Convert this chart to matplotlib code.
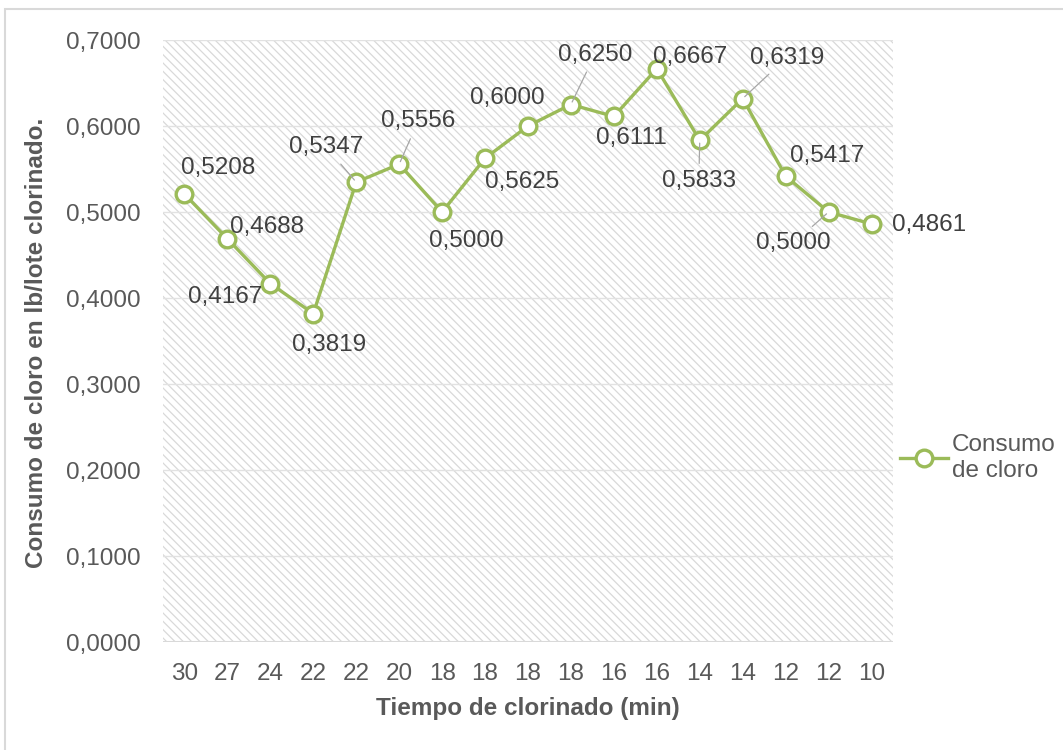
import matplotlib
matplotlib.use("Agg")
import matplotlib.pyplot as plt
from matplotlib.patches import Rectangle
from matplotlib.lines import Line2D

plt.rcParams['font.family'] = ['Liberation Sans', 'DejaVu Sans']
plt.rcParams['hatch.linewidth'] = 0.9

# Data
tiempos = ["30", "27", "24", "22", "22", "20", "18", "18", "18", "18",
           "16", "16", "14", "14", "12", "12", "10"]
consumo = [0.5208, 0.4688, 0.4167, 0.3819, 0.5347, 0.5556, 0.5000, 0.5625,
           0.6000, 0.6250, 0.6111, 0.6667, 0.5833, 0.6319, 0.5417, 0.5000,
           0.4861]
y_ticks = [0.0, 0.1, 0.2, 0.3, 0.4, 0.5, 0.6, 0.7]
serie = "Consumo\nde cloro"

# label offsets in pixels (dx, dy) and which labels get a leader line
offsets = [(34, 26), (40, 12), (-45, -13), (16, -31), (-30, 35), (19, 43),
           (24, -29), (37, -24), (-21, 28), (24, 50), (17, -22), (33, 12),
           (-1, -41), (44, 41), (41, 20), (-35, -31), (58, -1)]
leaders = {4, 5, 9, 12, 13, 15}

green = "#9bbb59"
txt = "#404040"
tick_col = "#595959"
fs = 17.5

fig = plt.figure(figsize=(10.63, 7.5), dpi=100)
fig.patch.set_facecolor("white")
fig.add_artist(Rectangle((5 / 1063, -0.05), 1.2, 1 - 9 / 750 + 0.05,
                         transform=fig.transFigure, fill=False,
                         edgecolor="#d9d9d9", linewidth=1.5))

ax = fig.add_axes([163 / 1063, 108 / 750, 730 / 1063, 602 / 750])
ax.set_xlim(-0.5, len(consumo) - 0.5)
ax.set_ylim(0, 0.7)

# hatched plot area
ax.add_patch(Rectangle((0, 0), 1, 1, transform=ax.transAxes,
                       facecolor="white", edgecolor="#d9d9d9",
                       hatch="\\\\\\\\", linewidth=0, zorder=0))
for s in ax.spines.values():
    s.set_visible(False)
ax.axhline(0, color="#d9d9d9", lw=1.5, zorder=1)
for v in y_ticks[1:]:
    ax.axhline(v, color="#e2e2e2", lw=1, zorder=1)

x = list(range(len(consumo)))
ax.plot(x, consumo, color=green, lw=2.4, marker="o", markersize=12,
        markerfacecolor="white", markeredgecolor=green, markeredgewidth=2.4,
        zorder=3)

for i, (v, (dx, dy)) in enumerate(zip(consumo, offsets)):
    label = f"{v:.4f}".replace(".", ",")
    arrow = None
    if i in leaders:
        arrow = dict(arrowstyle="-", color="#a6a6a6", lw=0.9,
                     shrinkA=3, shrinkB=2)
    ax.annotate(label, (i, v), xytext=(dx, dy), textcoords="offset pixels",
                ha="center", va="center", fontsize=fs, color=txt,
                arrowprops=arrow, zorder=4)

ax.set_xticks(x)
ax.set_xticklabels(tiempos)
ax.set_yticks(y_ticks)
ax.set_yticklabels([f"{v:.4f}".replace(".", ",") for v in y_ticks])
ax.tick_params(axis="both", length=0, labelsize=fs, labelcolor=tick_col)
ax.tick_params(axis="x", pad=15)
ax.tick_params(axis="y", pad=16)

ax.set_xlabel("Tiempo de clorinado (min)", fontsize=17.5, fontweight="bold",
              color=tick_col, labelpad=9)
fig.text(37 / 1063, 1 - 343 / 750, "Consumo de cloro en lb/lote clorinado.",
         rotation=90, ha="center", va="center", fontsize=17.5,
         fontweight="bold", color=tick_col)

handle = Line2D([], [], color=green, lw=2.4, marker="o", markersize=12,
                markerfacecolor="white", markeredgecolor=green,
                markeredgewidth=2.4)
fig.legend([handle], [serie], loc="center left",
           bbox_to_anchor=(878 / 1063, 1 - 458 / 750), frameon=False,
           fontsize=fs, handlelength=2.0, handletextpad=0.15,
           labelcolor=tick_col)

fig.savefig("out.png", dpi=100)
